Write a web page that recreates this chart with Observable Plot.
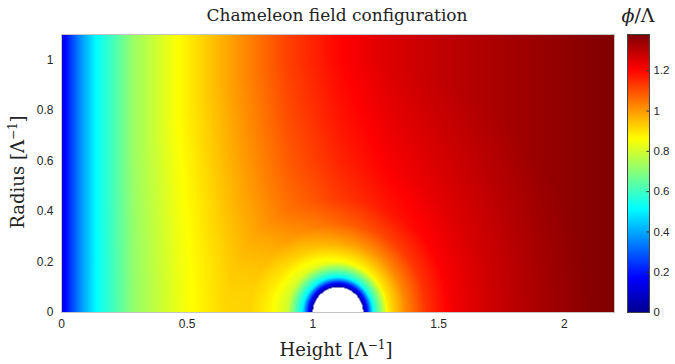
<!DOCTYPE html>
<html><head><meta charset="utf-8">
<script src="https://cdn.jsdelivr.net/npm/d3@7"></script>
<script src="https://cdn.jsdelivr.net/npm/@observablehq/plot@0.6"></script>
<style>
body{margin:0;background:#fff}
#wrap{position:relative;width:675px;height:364px;overflow:hidden}
#wrap svg{position:absolute;top:0;overflow:visible}
</style>
</head><body><div id="wrap"></div>
<script>
// Far-field profile along the height axis (read at the top of the plot)
const xs     = [0.00, 0.04, 0.08, 0.14, 0.29, 0.46, 0.69, 0.90, 1.10, 1.30, 1.50, 1.90, 2.20];
const phiFar = [0.12, 0.26, 0.38, 0.52, 0.73, 0.86, 1.00, 1.12, 1.20, 1.255, 1.29, 1.345, 1.38];
// Suppression factor versus distance from the sphere centre
const rs    = [0.100, 0.105, 0.115, 0.14, 0.17, 0.20, 0.27, 0.35, 0.45, 0.60, 0.80, 1.00];
const shell = [0.00,  0.06,  0.14,  0.43, 0.57, 0.71, 0.81, 0.89, 0.94, 0.965, 0.985, 1.00];
const sphereX = 1.1, sphereR = 0.1;
const xDomain = [0, 2.2], yDomain = [0, 1.1], phiMax = 1.38;
// jet colormap
const jetPos    = [0, 0.125, 0.375, 0.625, 0.875, 1];
const jetColors = ["#00008f", "#0000ff", "#00ffff", "#ffff00", "#ff0000", "#800000"];
const xTicks  = [0, 0.5, 1, 1.5, 2];
const yTicks  = [0, 0.2, 0.4, 0.6, 0.8, 1];
const cbTicks = [0, 0.2, 0.4, 0.6, 0.8, 1, 1.2];

const jet = d3.scaleLinear(jetPos, jetColors).interpolate(d3.interpolateRgb).clamp(true);
const far = d3.scaleLinear(xs, phiFar).clamp(true);
const sh  = d3.scaleLinear(rs, shell).clamp(true);
const field = (x, y) => {
  const r = Math.hypot(x - sphereX, y);
  return r < sphereR ? NaN : far(x) * sh(r);
};
const fmt = d => String(d);
const colorScale = {type: "linear", domain: [0, phiMax], interpolate: jet};

const main = Plot.plot({
  width: 675, height: 364,
  marginLeft: 61, marginRight: 61, marginTop: 34, marginBottom: 52,
  style: {fontFamily: "'Liberation Sans', Arial, sans-serif", fontSize: "12px", color: "#262626", background: "transparent"},
  x: {domain: xDomain, ticks: xTicks, tickSize: 0, tickPadding: 7, label: null, tickFormat: fmt},
  y: {domain: yDomain, ticks: yTicks, tickSize: 0, tickPadding: 8, label: null, tickFormat: fmt},
  color: colorScale,
  marks: [
    Plot.raster({fill: field, x1: xDomain[0], x2: xDomain[1], y1: yDomain[0], y2: yDomain[1], pixelSize: 1}),
    Plot.frame({stroke: "#c4c4c4"})
  ]
});

const cb = Plot.plot({
  width: 63, height: 364,
  marginLeft: 15, marginRight: 26, marginTop: 34, marginBottom: 52,
  style: {fontFamily: "'Liberation Sans', Arial, sans-serif", fontSize: "11.5px", color: "#262626", background: "transparent"},
  x: {domain: [0, 1], axis: null},
  y: {domain: [0, phiMax], ticks: cbTicks, tickSize: 0, tickPadding: 4, axis: "right", label: null, tickFormat: fmt},
  color: colorScale,
  marks: [
    Plot.raster({fill: (x, y) => y, x1: 0, x2: 1, y1: 0, y2: phiMax, pixelSize: 1}),
    Plot.ruleY(cbTicks, {x1: 0.88, x2: 1, stroke: "#333"}),
    Plot.frame({stroke: "#444"})
  ]
});
cb.style.left = "612px";

const wrap = document.getElementById("wrap");
wrap.appendChild(main);
wrap.appendChild(cb);

const svg = d3.select(main);
const serif = "'DejaVu Serif', 'Liberation Serif', serif";
svg.append("text").attr("x", 337).attr("y", 21).attr("text-anchor", "middle")
  .attr("font-family", serif).attr("font-size", 17).attr("fill", "#222")
  .text("Chameleon field configuration");

const xl = svg.append("text").attr("x", 336).attr("y", 356).attr("text-anchor", "middle")
  .attr("font-family", serif).attr("font-size", 18).attr("fill", "#222");
xl.append("tspan").text("Height [Λ");
xl.append("tspan").attr("dy", -7).attr("font-size", 12).text("−1");
xl.append("tspan").attr("dy", 7).text("]");

const yl = svg.append("text").attr("transform", "translate(24,172) rotate(-90)").attr("text-anchor", "middle")
  .attr("font-family", serif).attr("font-size", 18).attr("fill", "#222");
yl.append("tspan").text("Radius [Λ");
yl.append("tspan").attr("dy", -7).attr("font-size", 12).text("−1");
yl.append("tspan").attr("dy", 7).text("]");

const ct = d3.select(cb).append("text").attr("x", 26).attr("y", 22).attr("text-anchor", "middle")
  .attr("font-family", serif).attr("font-size", 19).attr("fill", "#222");
ct.append("tspan").attr("font-style", "italic").text("ϕ");
ct.append("tspan").text("/Λ");
</script>
</body></html>
